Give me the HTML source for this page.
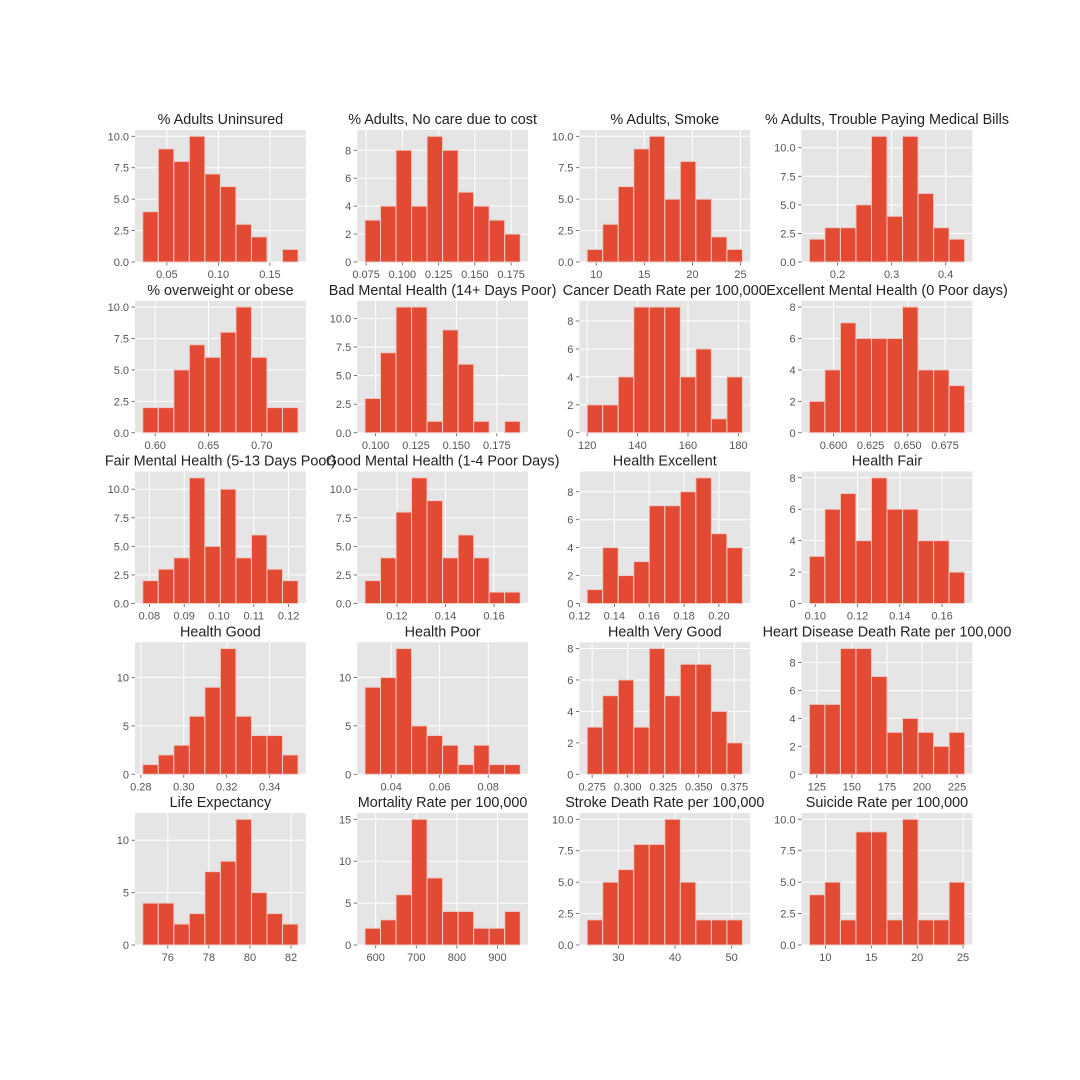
<!DOCTYPE html>
<html><head><meta charset="utf-8"><style>
html,body{margin:0;padding:0;background:#fff;}
svg{display:block;font-family:"Liberation Sans",sans-serif;}
</style></head><body>
<svg id="fig" width="1080" height="1080" viewBox="0 0 1080 1080" xmlns="http://www.w3.org/2000/svg"></svg>
<script>
const titles = ["% Adults Uninsured","% Adults, No care due to cost","% Adults, Smoke","% Adults, Trouble Paying Medical Bills",
"% overweight or obese","Bad Mental Health (14+ Days Poor)","Cancer Death Rate per 100,000","Excellent Mental Health (0 Poor days)",
"Fair Mental Health (5-13 Days Poor)","Good Mental Health (1-4 Poor Days)","Health Excellent","Health Fair",
"Health Good","Health Poor","Health Very Good","Heart Disease Death Rate per 100,000",
"Life Expectancy","Mortality Rate per 100,000","Stroke Death Rate per 100,000","Suicide Rate per 100,000"];
const counts = [
[4,9,8,10,7,6,3,2,0,1],[3,4,8,4,9,8,5,4,3,2],[1,3,6,9,10,5,8,5,2,1],[2,3,3,5,11,4,11,6,3,2],
[2,2,5,7,6,8,10,6,2,2],[3,7,11,11,1,9,6,1,0,1],[2,2,4,9,9,9,4,6,1,4],[2,4,7,6,6,6,8,4,4,3],
[2,3,4,11,5,10,4,6,3,2],[2,4,8,11,9,4,6,4,1,1],[1,4,2,3,7,7,8,9,5,4],[3,6,7,4,8,6,6,4,4,2],
[1,2,3,6,9,13,6,4,4,2],[9,10,13,5,4,3,1,3,1,1],[3,5,6,3,8,5,7,7,4,2],[5,5,9,9,7,3,4,3,2,3],
[4,4,2,3,7,8,12,5,3,2],[2,3,6,15,8,4,4,2,2,4],[2,5,6,8,8,10,5,2,2,2],[4,5,2,9,9,2,10,2,2,5]];
const dataMin = [0.0266,0.0742,9.06,0.148,0.5883,0.0934,120.0,0.5838,0.0781,0.1068,0.1244,0.0972,0.2809,0.0292,0.2715,119.7,74.78,573.5,24.5,8.25];
const dataMax = [0.1773,0.1813,25.2,0.435,0.734,0.1895,181.6,0.6882,0.1227,0.1708,0.2135,0.1707,0.3532,0.0932,0.3807,230.4,82.34,956.1,51.9,25.17];
const xTicks = [
["0.05","0.10","0.15"],["0.075","0.100","0.125","0.150","0.175"],["10","15","20","25"],["0.2","0.3","0.4"],
["0.60","0.65","0.70"],["0.100","0.125","0.150","0.175"],["120","140","160","180"],["0.600","0.625","0.650","0.675"],
["0.08","0.09","0.10","0.11","0.12"],["0.12","0.14","0.16"],["0.12","0.14","0.16","0.18","0.20"],["0.10","0.12","0.14","0.16"],
["0.28","0.30","0.32","0.34"],["0.04","0.06","0.08"],["0.275","0.300","0.325","0.350","0.375"],["125","150","175","200","225"],
["76","78","80","82"],["600","700","800","900"],["30","40","50"],["10","15","20","25"]];
const yH = ["0.0","2.5","5.0","7.5","10.0"], yE = ["0","2","4","6","8"], yF = ["0","5","10"];
const yTicks = [yH,yE,yH,yH, yH,yH,yE,yE, yH,yH,yE,yE, yF,yF,yE,yE, yF,["0","5","10","15"],yH,yH];

const NS="http://www.w3.org/2000/svg", svg=document.getElementById('fig');
function mk(tag,attrs,parent){const e=document.createElementNS(NS,tag);for(const k in attrs)e.setAttribute(k,attrs[k]);(parent||svg).appendChild(e);return e;}
const AX_W=170.8, AX_H=132, COL_PITCH=222.2, ROW_PITCH=170.75, LEFT=135, TOP=130;
titles.forEach((t,i)=>{
  const r=Math.floor(i/4), c=i%4;
  const x0=LEFT+c*COL_PITCH, y0=TOP+r*ROW_PITCH;
  const g=mk('g',{});
  
  
  const mn=dataMin[i], mx=dataMax[i], R=mx-mn;
  const xl=mn-0.05*R, xr=mx+0.05*R;
  const cs=counts[i]; const cmax=Math.max(...cs); const ymax=cmax*1.05;
  const sx=v=>x0+(v-xl)/(xr-xl)*AX_W;
  const sy=v=>y0+AX_H-v/ymax*AX_H;
  const bg=mk('rect',{x:x0,y:y0,width:AX_W,height:AX_H,fill:'#E5E5E5'},g);
  
  
  xTicks[i].forEach(s=>{const v=parseFloat(s),X=sx(v);
    mk('line',{x1:X,x2:X,y1:y0,y2:y0+AX_H,stroke:'#fff','stroke-width':1},g);
    mk('line',{x1:X,x2:X,y1:y0+AX_H,y2:y0+AX_H+3.5,stroke:'#555','stroke-width':0.8},g);
    const tx=mk('text',{x:X,y:y0+AX_H+16,'font-size':11,fill:'#555','text-anchor':'middle'},g);tx.textContent=s;
    
    });
  yTicks[i].forEach(s=>{const v=parseFloat(s),Y=sy(v);
    mk('line',{x1:x0,x2:x0+AX_W,y1:Y,y2:Y,stroke:'#fff','stroke-width':1},g);
    mk('line',{x1:x0-3.5,x2:x0,y1:Y,y2:Y,stroke:'#555','stroke-width':0.8},g);
    const tx=mk('text',{x:x0-6,y:Y+4,'font-size':11,fill:'#555','text-anchor':'end'},g);tx.textContent=s;
    
    });
  const bw=R/cs.length;
  cs.forEach((n,k)=>{ if(n<=0) return;
    const a=sx(mn+k*bw), b=sx(mn+(k+1)*bw);
    const rc=mk('rect',{x:a,y:sy(n),width:b-a,height:sy(0)-sy(n),fill:'#E24A33',stroke:'#EECCC6','stroke-width':1},g);
    
    });
  const tt=mk('text',{x:x0+AX_W/2,y:y0-6,'font-size':14.4,fill:'#222','text-anchor':'middle'},g);tt.textContent=t;
  
  
});
</script>
</body></html>
